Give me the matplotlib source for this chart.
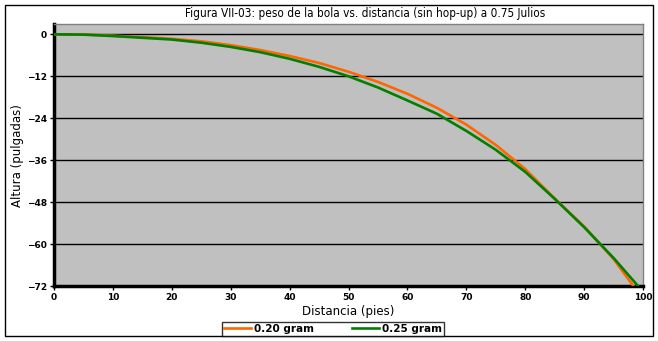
import matplotlib
matplotlib.use('Agg')
import matplotlib.pyplot as plt
from matplotlib.patches import Rectangle

# distance (ft) and height (in)
dist_020 = [0, 5, 10, 15, 20, 25, 30, 35, 40, 45, 50, 55, 60, 65, 70, 75, 80, 85, 90, 95, 98.4]
alt_020 = [0, -0.05, -0.4, -0.8, -1.3, -2.0, -3.1, -4.5, -6.2, -8.2, -10.7, -13.6,
           -17.0, -21.0, -25.8, -31.6, -38.5, -46.9, -54.9, -64.2, -72]

dist_025 = [0, 5, 10, 15, 20, 25, 30, 35, 40, 45, 50, 55, 60, 65, 70, 75, 80, 85, 90, 95, 99.2]
alt_025 = [0, -0.1, -0.5, -1.0, -1.5, -2.4, -3.6, -5.1, -7.0, -9.3, -12.0, -15.2,
           -18.9, -22.7, -27.6, -33.0, -39.3, -47.0, -55.1, -63.9, -72]

labels = ['0.20 gram', '0.25 gram']
colors = ['#ff6600', '#008000']
yticks = [0, -12, -24, -36, -48, -60, -72]
xticks = list(range(0, 101, 10))

fig = plt.figure(figsize=(6.58, 3.41), dpi=100)
ax = fig.add_axes([54 / 658, 1 - 286.3 / 341, (643 - 54) / 658, (286.3 - 24) / 341])
ax.set_facecolor('#c0c0c0')

for y in yticks:
    ax.axhline(y, color='black', linewidth=1, zorder=1)

ax.plot(dist_020, alt_020, color=colors[0], linewidth=1.9, label=labels[0], zorder=3)
ax.plot(dist_025, alt_025, color=colors[1], linewidth=1.9, label=labels[1], zorder=3)

ax.set_xlim(0, 100)
ax.set_ylim(-72, 2.94)
ax.set_xticks(xticks)
ax.set_yticks(yticks)
ax.tick_params(direction='out', length=3, width=1, labelsize=6.5, pad=2)
for t in ax.get_xticklabels() + ax.get_yticklabels():
    t.set_fontweight('bold')

for s in ['left', 'bottom']:
    ax.spines[s].set_linewidth(2.5)
    ax.spines[s].set_color('black')
for s in ['top', 'right']:
    ax.spines[s].set_linewidth(1)
    ax.spines[s].set_color('#808080')

ax.set_xlabel('Distancia (pies)', fontsize=8.5, labelpad=2)
ax.set_ylabel('Altura (pulgadas)', fontsize=8.5, labelpad=2)

fig.text(365 / 658, 1 - 13 / 341, 'Figura VII-03: peso de la bola vs. distancia (sin hop-up) a 0.75 Julios',
         ha='center', va='center', fontsize=8.5, fontstretch='condensed', fontweight='medium')

leg = fig.legend(loc='lower left', bbox_to_anchor=(222 / 658, 5 / 341, 222 / 658, 15 / 341),
                 mode='expand', ncol=2, frameon=True, fancybox=False,
                 handlelength=2.6, handletextpad=0.3, borderpad=0.2, borderaxespad=0,
                 prop={'weight': 'bold', 'size': 7.5})
leg.get_frame().set_edgecolor('black')
leg.get_frame().set_linewidth(1)

fig.patches.append(Rectangle((5 / 658, 5 / 341), 648 / 658, 331 / 341, transform=fig.transFigure,
                             fill=False, edgecolor='black', linewidth=1))

fig.savefig('out.png', dpi=100)
